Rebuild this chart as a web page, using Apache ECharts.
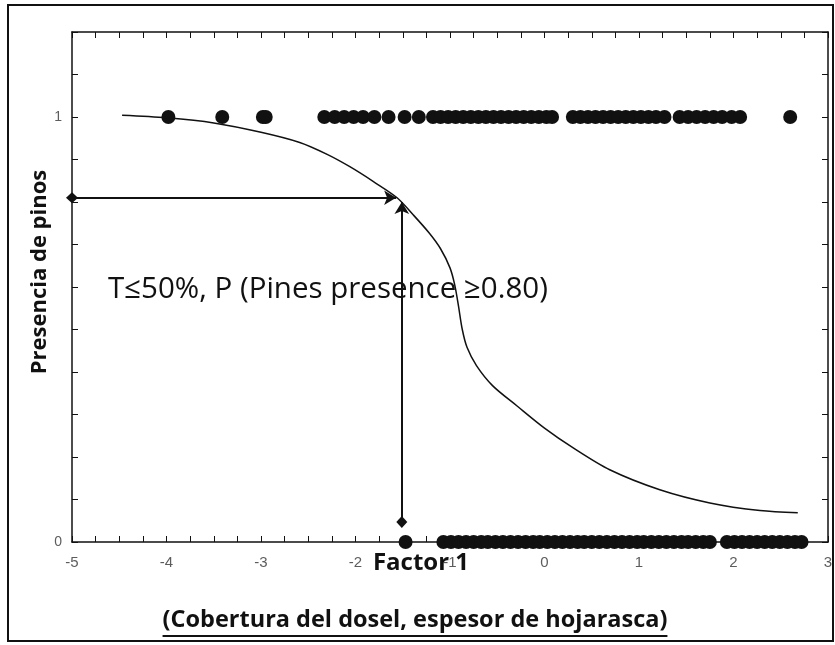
<!DOCTYPE html>
<html lang="es">
<head>
<meta charset="utf-8" />
<title>Presencia de pinos</title>
<script src="https://cdn.jsdelivr.net/npm/echarts@6/dist/echarts.min.js"></script>
<style>
html, body { margin: 0; padding: 0; background: #fff; }
#main { width: 835px; height: 645px; }
</style>
</head>
<body>
<div id="main"></div>
<script>
// puntos con presencia de pinos (y = 1)
var presentX = [-3.98, -3.41, -2.98, -2.95, -2.33, -2.22, -2.12, -2.02, -1.92, -1.8, -1.65, -1.48, -1.33,
  -1.18, -1.1, -1.02, -0.94, -0.86, -0.78, -0.7, -0.62, -0.54, -0.46, -0.38, -0.3, -0.22, -0.14, -0.06, 0.02, 0.08,
  0.3, 0.38, 0.46, 0.54, 0.62, 0.7, 0.78, 0.86, 0.94, 1.02, 1.1, 1.18, 1.27,
  1.43, 1.52, 1.61, 1.7, 1.79, 1.88, 1.98, 2.07,
  2.6];
// puntos sin pinos (y = 0)
var absentX = [-1.47,
  -1.07, -0.99, -0.91, -0.83, -0.75, -0.67, -0.6, -0.52, -0.44, -0.36, -0.28, -0.2, -0.12, -0.05,
  0.03, 0.11, 0.19, 0.27, 0.35, 0.42, 0.5, 0.58, 0.66, 0.74, 0.82, 0.9, 0.98, 1.05, 1.13, 1.21,
  1.29, 1.37, 1.45, 1.52, 1.6, 1.68, 1.75,
  1.93, 2.01, 2.09, 2.17, 2.25, 2.33, 2.41, 2.49, 2.57, 2.65, 2.72];
// curva logistica ajustada
var curveX = [-4.47, -4.0, -3.5, -3.0, -2.59, -2.3, -2.06, -1.81, -1.56, -1.39, -1.22, -1.1, -1.0, -0.95,
  -0.91, -0.87, -0.82, -0.72, -0.55, -0.29, 0.0, 0.3, 0.69, 1.22, 1.75, 2.28, 2.68];
var curveY = [1.004, 0.998, 0.986, 0.964, 0.94, 0.912, 0.883, 0.848, 0.81, 0.77, 0.727, 0.69, 0.645, 0.605,
  0.555, 0.5, 0.458, 0.415, 0.368, 0.32, 0.268, 0.222, 0.17, 0.123, 0.092, 0.074, 0.069];
// flechas del umbral
var hArrow = [[-5.0, 0.81], [-1.57, 0.81]];
var vArrow = [[-1.51, 0.047], [-1.51, 0.80]];
// etiquetas de los ejes
var xLabels = [-5, -4, -3, -2, -1, 0, 1, 2, 3];
var yLabels = [0, 1];

var chart = echarts.init(document.getElementById('main'));
var ink = '#111';

function pair(xs, y) {
  return xs.map(function (x) { return [x, y]; });
}
var curveData = curveX.map(function (x, i) { return [x, curveY[i]]; });

var tickStyle = { show: true, inside: true, length: 6, lineStyle: { color: ink, width: 1 } };
var minorStyle = { show: true, splitNumber: 4, length: 6, lineStyle: { color: ink, width: 1 } };
var lineStyle = { show: true, onZero: false, lineStyle: { color: ink, width: 1.5 } };

// ancho del titulo para el subrayado
var subTitle = '(Cobertura del dosel, espesor de hojarasca)';
var ctx = document.createElement('canvas').getContext('2d');
ctx.font = 'bold 23.5px "Open Sans"';
var subW = ctx.measureText(subTitle).width;

var labelFont = { color: '#333', fontFamily: 'Liberation Sans' };

var option = {
  backgroundColor: '#fff',
  animation: false,
  grid: { left: 72, right: 7, top: 32, bottom: 103 },
  xAxis: [{
    type: 'value', min: -5, max: 3, interval: 1, position: 'bottom',
    axisLine: lineStyle, axisTick: tickStyle, minorTick: minorStyle, splitLine: { show: false },
    axisLabel: { show: false }
  }, {
    type: 'value', min: -5, max: 3, interval: 0.25, position: 'top',
    axisLine: lineStyle, axisTick: tickStyle, splitLine: { show: false }, axisLabel: { show: false }
  }],
  yAxis: [{
    type: 'value', min: 0, max: 1.2, interval: 0.1, position: 'left',
    axisLine: lineStyle, axisTick: tickStyle, splitLine: { show: false }, axisLabel: { show: false }
  }, {
    type: 'value', min: 0, max: 1.2, interval: 0.1, position: 'right',
    axisLine: lineStyle, axisTick: tickStyle, splitLine: { show: false }, axisLabel: { show: false }
  }],
  series: [{
    type: 'scatter', data: pair(presentX, 1), symbolSize: 14,
    itemStyle: { color: ink, opacity: 1 }, clip: true
  }, {
    type: 'scatter', data: pair(absentX, 0), symbolSize: 14,
    itemStyle: { color: ink, opacity: 1 }, clip: true
  }, {
    type: 'line', data: curveData, smooth: 0.3, showSymbol: false, symbol: 'none',
    lineStyle: { color: ink, width: 1.5 }, clip: false, z: 3,
    markLine: {
      silent: true, symbol: ['diamond', 'arrow'], symbolSize: [11, 12],
      label: { show: false },
      lineStyle: { color: ink, width: 2, type: 'solid', opacity: 1 },
      itemStyle: { color: ink },
      data: [
        [{ coord: hArrow[0] }, { coord: hArrow[1] }],
        [{ coord: vArrow[0] }, { coord: vArrow[1] }]
      ]
    }
  }, {
    // etiquetas del eje x
    type: 'scatter', data: pair(xLabels, 0), symbolSize: 0, silent: true, clip: false, z: 1,
    label: Object.assign({ show: true, position: 'bottom', distance: 13, fontSize: 15,
      formatter: function (p) { return String(p.value[0]); } }, labelFont)
  }, {
    // etiquetas del eje y
    type: 'scatter', data: yLabels.map(function (v) { return [-5, v]; }), symbolSize: 0, silent: true, clip: false, z: 1,
    label: Object.assign({ show: true, position: 'left', distance: 10, fontSize: 14,
      formatter: function (p) { return String(p.value[1]); } }, labelFont)
  }],
  graphic: [{
    type: 'rect', shape: { x: 8, y: 5, width: 825, height: 636 },
    style: { fill: 'none', stroke: ink, lineWidth: 2 }, z: -1
  }, {
    type: 'text', x: 40, y: 272, rotation: Math.PI / 2,
    style: { text: 'Presencia de pinos', fontSize: 22, fontWeight: 'bold', fontFamily: 'Open Sans', fill: ink, align: 'center', verticalAlign: 'middle' }
  }, {
    type: 'text', x: 108, y: 290,
    style: { text: 'T\u226450%, P (Pines presence \u22650.80)', fontSize: 29.5, fontFamily: 'Open Sans', fill: ink, align: 'left', verticalAlign: 'middle' }
  }, {
    type: 'text', x: 421, y: 563,
    style: { text: 'Factor 1', fontSize: 24, fontWeight: 'bold', fontFamily: 'Open Sans', fill: ink, align: 'center', verticalAlign: 'middle' }
  }, {
    type: 'text', x: 415, y: 620,
    style: { text: subTitle, fontSize: 23.5, fontWeight: 'bold', fontFamily: 'Open Sans', fill: ink, align: 'center', verticalAlign: 'middle' }
  }, {
    type: 'line', shape: { x1: 415 - subW / 2, y1: 636, x2: 415 + subW / 2, y2: 636 },
    style: { stroke: ink, lineWidth: 2 }
  }]
};
chart.setOption(option);
</script>
</body>
</html>
